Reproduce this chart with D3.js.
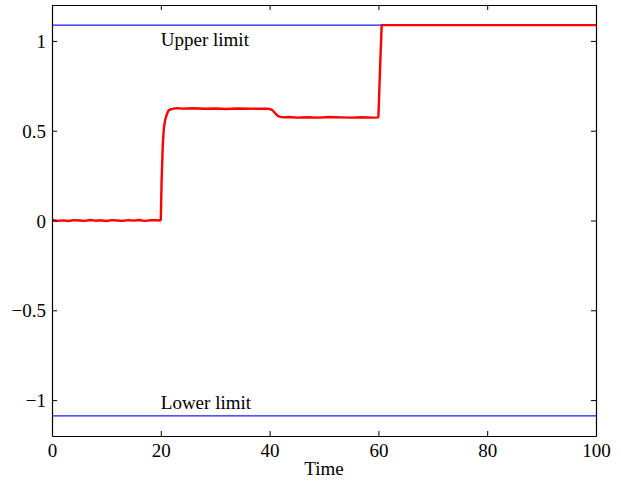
<!DOCTYPE html>
<html><head><meta charset="utf-8">
<script src="https://cdn.jsdelivr.net/npm/d3@7"></script>
<style>
html,body{margin:0;padding:0;background:#fff;}
svg text{font-family:"Liberation Serif","Times New Roman",serif;fill:#000;}
</style></head>
<body><svg id="c" width="621" height="483"></svg>
<script>
const xTicks = [0, 20, 40, 60, 80, 100];
const yTicks = [-1, -0.5, 0, 0.5, 1];
const yTickLabels = ["\u22121", "\u22120.5", "0", "0.5", "1"];
const upperLimit = 1.088;
const lowerLimit = -1.088;
const limitTime = [0, 100];
const redTime = [0, 1, 2, 3, 4, 5, 6, 7, 8, 9, 10, 11, 12, 13, 14, 15, 16, 17, 18, 19, 19.9,
  20.0, 20.15, 20.35, 20.55, 20.8, 21.1, 21.4, 21.8, 22.3, 23, 24, 26, 28, 30, 32, 34, 36, 38, 39.5,
  40.0, 40.5, 41.0, 41.5, 42.0, 42.6, 43.5, 45, 47, 49, 51, 53, 55, 57, 59, 59.9,
  60.0, 60.3, 60.6, 62, 70, 80, 90, 100];
const redValue = [0.003, -0.002, 0.001, -0.003, 0.002, 0.000, -0.002, 0.003, -0.001, 0.001, -0.003, 0.002, 0.000, -0.002, 0.002, -0.001, 0.003, -0.002, 0.001, 0.002, 0.000,
  0.005, 0.22, 0.41, 0.51, 0.56, 0.59, 0.612, 0.619, 0.623, 0.626, 0.623, 0.625, 0.622, 0.624, 0.621, 0.624, 0.622, 0.623, 0.622,
  0.621, 0.615, 0.598, 0.583, 0.577, 0.574, 0.576, 0.573, 0.575, 0.573, 0.576, 0.574, 0.573, 0.575, 0.573, 0.574,
  0.578, 0.84, 1.088, 1.088, 1.088, 1.088, 1.088, 1.088];

const W = 621, H = 483;
const m = {left: 52, right: 25, top: 5, bottom: 47};
const x = d3.scaleLinear().domain([0, 100]).range([m.left, W - m.right]);
const y = d3.scaleLinear().domain([-1.2, 1.2]).range([H - m.bottom, m.top]);
const svg = d3.select("#c");

// limits
[upperLimit, lowerLimit].forEach(v => {
  svg.append("path")
    .datum(limitTime.map(t => [t, v]))
    .attr("d", d3.line().x(d => x(d[0])).y(d => y(d[1])))
    .attr("fill", "none").attr("stroke", "#1a1aff").attr("stroke-width", 1.1);
});

// red line
svg.append("path")
  .datum(redTime.map((t, i) => [t, redValue[i]]))
  .attr("d", d3.line().x(d => x(d[0])).y(d => y(d[1])))
  .attr("fill", "none").attr("stroke", "#ff0000").attr("stroke-width", 2.4)
  .attr("stroke-linejoin", "round");

// axes with inward ticks
const fs = "19px";
const axB = svg.append("g").attr("transform", `translate(0,${y(-1.2)})`)
  .call(d3.axisBottom(x).tickValues(xTicks).tickSizeInner(-5).tickSizeOuter(0).tickPadding(8));
const axT = svg.append("g").attr("transform", `translate(0,${y(1.2)})`)
  .call(d3.axisTop(x).tickValues(xTicks).tickSizeInner(-5).tickSizeOuter(0).tickFormat(""));
const axL = svg.append("g").attr("transform", `translate(${x(0)},0)`)
  .call(d3.axisLeft(y).tickValues(yTicks).tickSizeInner(-5).tickSizeOuter(0).tickPadding(6)
    .tickFormat((d, i) => yTickLabels[i]));
const axR = svg.append("g").attr("transform", `translate(${x(100)},0)`)
  .call(d3.axisRight(y).tickValues(yTicks).tickSizeInner(-5).tickSizeOuter(0).tickFormat(""));
[axB, axT, axL, axR].forEach(g => {
  g.selectAll(".domain").attr("stroke", "#000").attr("stroke-width", 1.2);
  g.selectAll(".tick line").attr("stroke", "#000");
  g.selectAll("text").style("font-size", fs).attr("font-family", "Liberation Serif");
});
axL.selectAll("text").attr("dy", "0.35em");

svg.append("text").attr("x", (x(0) + x(100)) / 2).attr("y", 475)
  .attr("text-anchor", "middle").style("font-size", fs).text("Time");
svg.append("text").attr("x", x(20)).attr("y", 46).style("font-size", fs).text("Upper limit");
svg.append("text").attr("x", x(20)).attr("y", 409).style("font-size", fs).text("Lower limit");
</script></body></html>
